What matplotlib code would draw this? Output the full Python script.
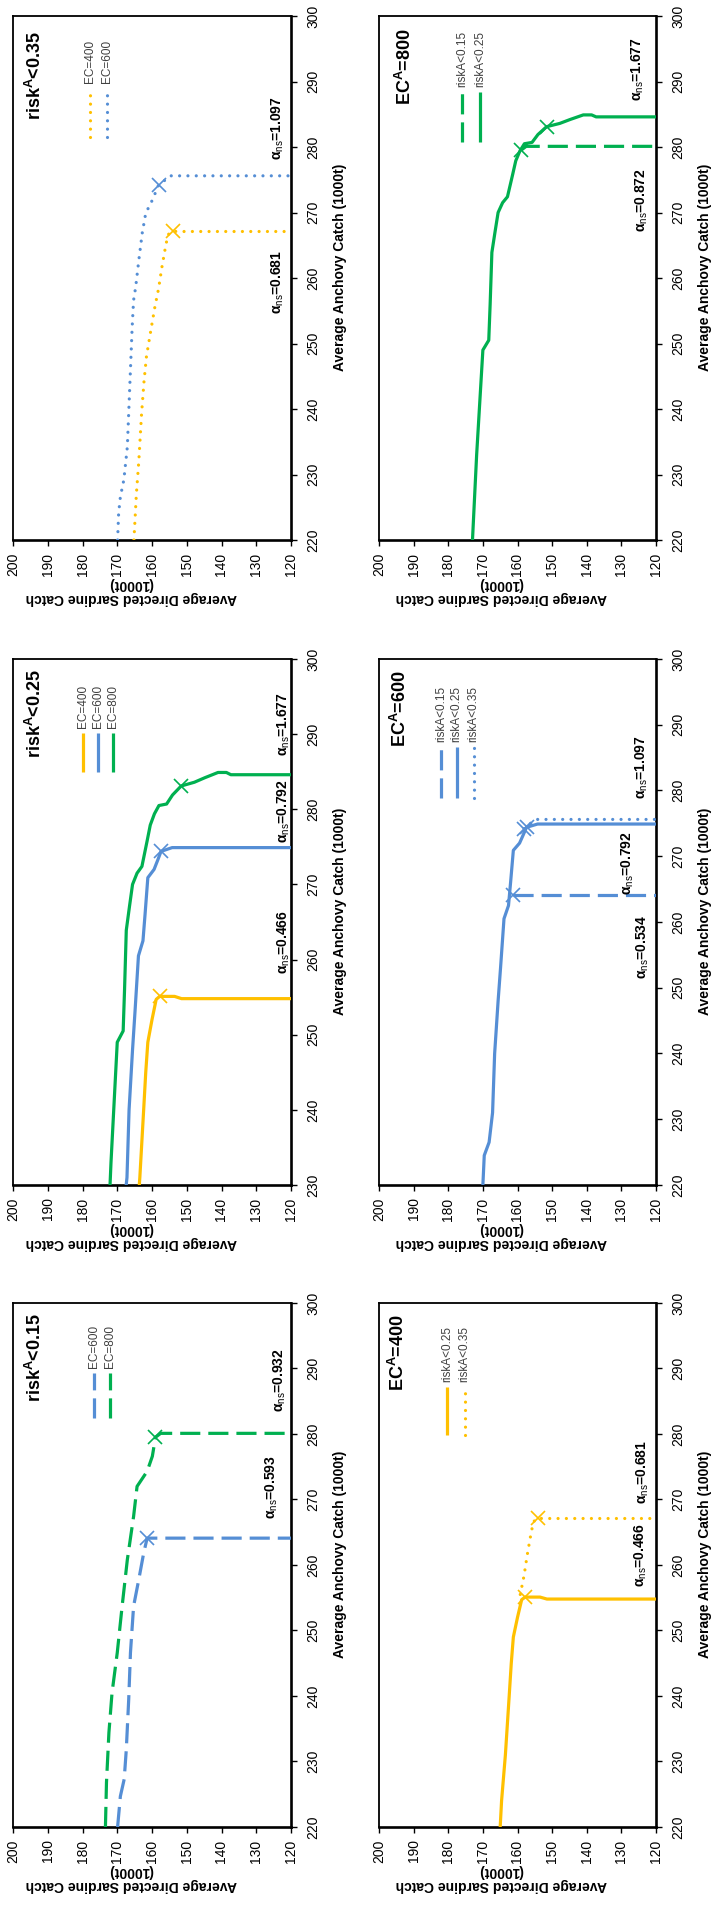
#Sardine / anchovy catch trade-off panels, drawn turned on their side like the source page
import matplotlib
matplotlib.use("Agg")
import matplotlib.pyplot as plt

plt.rcParams['font.family'] = ['Liberation Sans', 'DejaVu Sans']
plt.rcParams['mathtext.fontset'] = 'custom'
plt.rcParams['mathtext.rm'] = 'Liberation Sans'
plt.rcParams['mathtext.bf'] = 'Liberation Sans:bold'
plt.rcParams['mathtext.it'] = 'Liberation Sans:italic'

#Data: average directed sardine catch (s..) and anchovy catch (a..), 1000t
#EC=600, riskA<0.15
s600_15 = [169.9, 169.1, 168.0, 167.4, 166.7, 166.2, 165.3, 163.8, 162.4, 161.4, 120.0]
a600_15 = [220.0, 224.7, 227.3, 231.8, 239.5, 246.6, 253.7, 257.8, 261.8, 264.1, 264.1]
#EC=800, riskA<0.15
s800_15 = [173.4, 173.1, 172.4, 171.5, 170.0, 168.6, 167.1, 165.3, 164.3, 161.4, 159.9, 159.0, 157.5, 120.0]
a800_15 = [220.0, 226.8, 234.4, 240.5, 246.6, 253.7, 260.8, 267.4, 272.0, 274.3, 276.6, 279.5, 280.1, 280.1]
#EC=400, riskA<0.25
s400_25 = [165.0, 164.6, 163.5, 162.4, 161.8, 161.2, 160.0, 158.8, 157.8, 153.5, 151.5, 120.0]
a400_25 = [220.0, 224.0, 231.0, 240.0, 245.0, 249.0, 252.0, 254.7, 255.1, 255.1, 254.8, 254.8]
#EC=600, riskA<0.25
s600_25 = [170.0, 169.6, 168.2, 167.2, 166.6, 165.6, 164.9, 163.9, 162.6, 162.0, 161.2, 159.4, 158.3, 157.4, 154.2, 120.0]
a600_25 = [220.0, 224.5, 226.5, 231.0, 240.0, 248.0, 253.0, 260.5, 262.5, 266.0, 270.9, 272.0, 273.3, 274.4, 274.9, 274.9]
#EC=800, riskA<0.25
s800_25 = [173.0, 171.8, 170.0, 168.3, 167.9, 167.4, 166.5, 165.6, 164.3, 162.9, 161.4, 160.5, 159.3, 158.0,
           155.8, 154.1, 151.6, 147.8, 144.8, 141.0, 138.6, 137.3, 120.0]
a800_25 = [220.0, 233.0, 249.0, 250.5, 256.0, 263.9, 267.0, 270.0, 271.5, 272.4, 275.8, 277.9, 279.4, 280.5,
           280.7, 281.9, 283.1, 283.6, 284.2, 284.9, 284.9, 284.6, 284.6]
#EC=400, riskA<0.35
s400_35 = [165.2, 164.5, 163.8, 163.0, 162.3, 161.6, 160.4, 159.2, 158.1, 157.2, 156.1, 155.4, 154.1, 153.0, 120.0]
a400_35 = [220.0, 227.0, 232.0, 239.3, 244.2, 248.0, 251.8, 255.5, 258.4, 261.5, 264.8, 266.6, 267.2, 267.1, 267.1]
#EC=600, riskA<0.35
s600_35 = [169.9, 169.6, 169.1, 168.1, 167.1, 166.4, 165.7, 165.3, 164.7, 163.8, 162.8, 161.8, 159.9, 158.1, 154.6, 120.0]
a600_35 = [220.0, 224.1, 226.6, 229.2, 234.2, 243.4, 252.6, 256.6, 258.6, 262.7, 266.9, 269.9, 271.9, 274.2, 275.6, 275.6]

#index of the point marked with an x on each curve
mk600_15, mk800_15, mk400_25, mk600_25, mk800_25, mk400_35, mk600_35 = 9, 11, 8, 13, 16, 12, 13

#alpha_ns labels written in each panel
alpha_r15 = ['0.593', '0.932']
alpha_r25 = ['0.466', '0.792', '1.677']
alpha_r35 = ['0.681', '1.097']
alpha_ec400 = ['0.466', '0.681']
alpha_ec600 = ['0.534', '0.792', '1.097']
alpha_ec800 = ['0.872', '1.677']

sard_ticks = list(range(120, 201, 10))

ORANGE = '#FFC000'
BLUE = '#558ED5'
GREEN = '#00B050'

STY = {
    'solid': dict(linestyle='-', lw=2.3, solid_capstyle='butt', solid_joinstyle='round'),
    'dash': dict(linestyle=(0, (6.3, 2.5)), lw=2.3, dash_capstyle='butt'),
    'dot': dict(linestyle=(0, (0.01, 2.6)), lw=2.3, dash_capstyle='round'),
}

W, H = 714, 1911
fig = plt.figure(figsize=(W / 100, H / 100), dpi=100)


def px_axes(x0, x1, y0, y1):
    #pixel box (top-left origin) -> figure fraction
    return fig.add_axes([x0 / W, 1 - y1 / H, (x1 - x0) / W, (y1 - y0) / H])


def draw_panel(box, ylo, title, tpos, curves, legend, lx, ly, notes, slab_x):
    ax = px_axes(*box)
    ax.set_xlim(200, 120)
    ax.set_ylim(ylo, 300)
    ax.set_xticks(sard_ticks)
    ax.set_yticks(list(range(ylo, 301, 10)))
    ax.yaxis.tick_right()
    ax.tick_params(axis='x', direction='out', length=4, width=1, labelsize=10, rotation=90, pad=5)
    ax.tick_params(axis='y', direction='out', length=4, width=1, labelsize=10, rotation=90, pad=7)
    for t in ax.get_yticklabels():
        t.set_va('center')
    ax.spines['left'].set_linewidth(1.3)
    ax.spines['top'].set_linewidth(1.3)
    ax.spines['right'].set_linewidth(1.9)
    ax.spines['bottom'].set_linewidth(1.9)

    for s, a, mk, color, style, start in curves:
        ax.plot(s[start:], a[start:], color=color, **STY[style], zorder=3)
        ax.plot([s[mk]], [a[mk]], marker='x', ms=10, mew=1.2, color=color, zorder=4)

    #legend drawn by hand, sideways like the rest
    for (lab, color, style), x in zip(legend, lx):
        ax.plot([x, x], [ly[0], ly[1]], transform=ax.transAxes, color=color, **STY[style])
        ax.text(x, ly[1] + 0.01, lab, transform=ax.transAxes, rotation=90, ha='center', va='bottom',
                fontsize=8.5, color='#404040')

    ax.text(tpos[0], tpos[1], title, transform=ax.transAxes, rotation=90, ha='center', va='center',
            fontsize=13, fontweight='bold')

    for (sx, ay), val in notes:
        ax.text(sx, ay, r'$\mathbf{\alpha}_{\mathrm{ns}}$=' + val, rotation=90, ha='center', va='center',
                fontsize=10, fontweight='bold')

    ax.text(slab_x, -0.097, 'Average Directed Sardine Catch\n(1000t)', transform=ax.transAxes,
            rotation=180, ha='center', va='center', multialignment='center', fontsize=10,
            fontweight='bold', linespacing=1.0)
    ax.text(1.177, 0.52, 'Average Anchovy Catch (1000t)', transform=ax.transAxes, rotation=90,
            ha='center', va='center', fontsize=10, fontweight='bold')
    return ax


LEFT = (13, 291)
RIGHT = (379, 656)
TOP, MID, BOT = (16, 540), (659, 1185), (1303, 1827)

#riskA<0.15
draw_panel(LEFT + BOT, 220, r'risk$^{\mathbf{A}}$<0.15', (0.079, 0.895),
           [(s600_15, a600_15, mk600_15, BLUE, 'dash', 0),
            (s800_15, a800_15, mk800_15, GREEN, 'dash', 0)],
           [('EC=600', BLUE, 'dash'), ('EC=800', GREEN, 'dash')], [0.292, 0.349], (0.781, 0.866),
           list(zip([(125.6, 271.9), (123.2, 288.2)], alpha_r15)), 0.424)

#riskA<0.25
draw_panel(LEFT + MID, 230, r'risk$^{\mathbf{A}}$<0.25', (0.079, 0.897),
           [(s400_25, a400_25, mk400_25, ORANGE, 'solid', 0),
            (s600_25, a600_25, mk600_25, BLUE, 'solid', 0),
            (s800_25, a800_25, mk800_25, GREEN, 'solid', 0)],
           [('EC=400', ORANGE, 'solid'), ('EC=600', BLUE, 'solid'), ('EC=800', GREEN, 'solid')],
           [0.251, 0.307, 0.361], (0.785, 0.859),
           list(zip([(122.2, 262.3), (122.2, 279.7), (122.2, 291.3)], alpha_r25)), 0.424)

#riskA<0.35
draw_panel(LEFT + TOP, 220, r'risk$^{\mathbf{A}}$<0.35', (0.079, 0.887),
           [(s400_35, a400_35, mk400_35, ORANGE, 'dot', 0),
            (s600_35, a600_35, mk600_35, BLUE, 'dot', 0)],
           [('EC=400', ORANGE, 'dot'), ('EC=600', BLUE, 'dot')], [0.277, 0.338], (0.769, 0.863),
           list(zip([(123.7, 259.4), (123.7, 282.9)], alpha_r35)), 0.424)

#EC=400
draw_panel(RIGHT + BOT, 220, r'EC$^{\mathbf{A}}$=400', (0.068, 0.905),
           [(s400_35, a400_35, mk400_35, ORANGE, 'dot', 7),
            (s400_25, a400_25, mk400_25, ORANGE, 'solid', 0)],
           [('riskA<0.25', ORANGE, 'solid'), ('riskA<0.35', ORANGE, 'dot')], [0.247, 0.309], (0.748, 0.84),
           list(zip([(124.4, 261.5), (123.9, 274.2)], alpha_ec400)), 0.44)

#EC=600
draw_panel(RIGHT + MID, 220, r'EC$^{\mathbf{A}}$=600', (0.075, 0.905),
           [(s600_15, a600_15, mk600_15, BLUE, 'dash', mk600_15),
            (s600_35, a600_35, mk600_35, BLUE, 'dot', mk600_35),
            (s600_25, a600_25, mk600_25, BLUE, 'solid', 0)],
           [('riskA<0.15', BLUE, 'dash'), ('riskA<0.25', BLUE, 'solid'), ('riskA<0.35', BLUE, 'dot')],
           [0.225, 0.28, 0.342], (0.736, 0.833),
           list(zip([(123.7, 256.2), (128.0, 269.0), (124.2, 283.6)], alpha_ec600)), 0.44)

#EC=800
draw_panel(RIGHT + TOP, 220, r'EC$^{\mathbf{A}}$=800', (0.095, 0.903),
           [(s800_15, a800_15, mk800_15, GREEN, 'dash', mk800_15),
            (s800_25, a800_25, mk800_25, GREEN, 'solid', 0)],
           [('riskA<0.15', GREEN, 'dash'), ('riskA<0.25', GREEN, 'solid')], [0.299, 0.364], (0.76, 0.855),
           list(zip([(124.0, 271.9), (125.4, 291.8)], alpha_ec800)), 0.44)

fig.savefig('out.png', dpi=100)
